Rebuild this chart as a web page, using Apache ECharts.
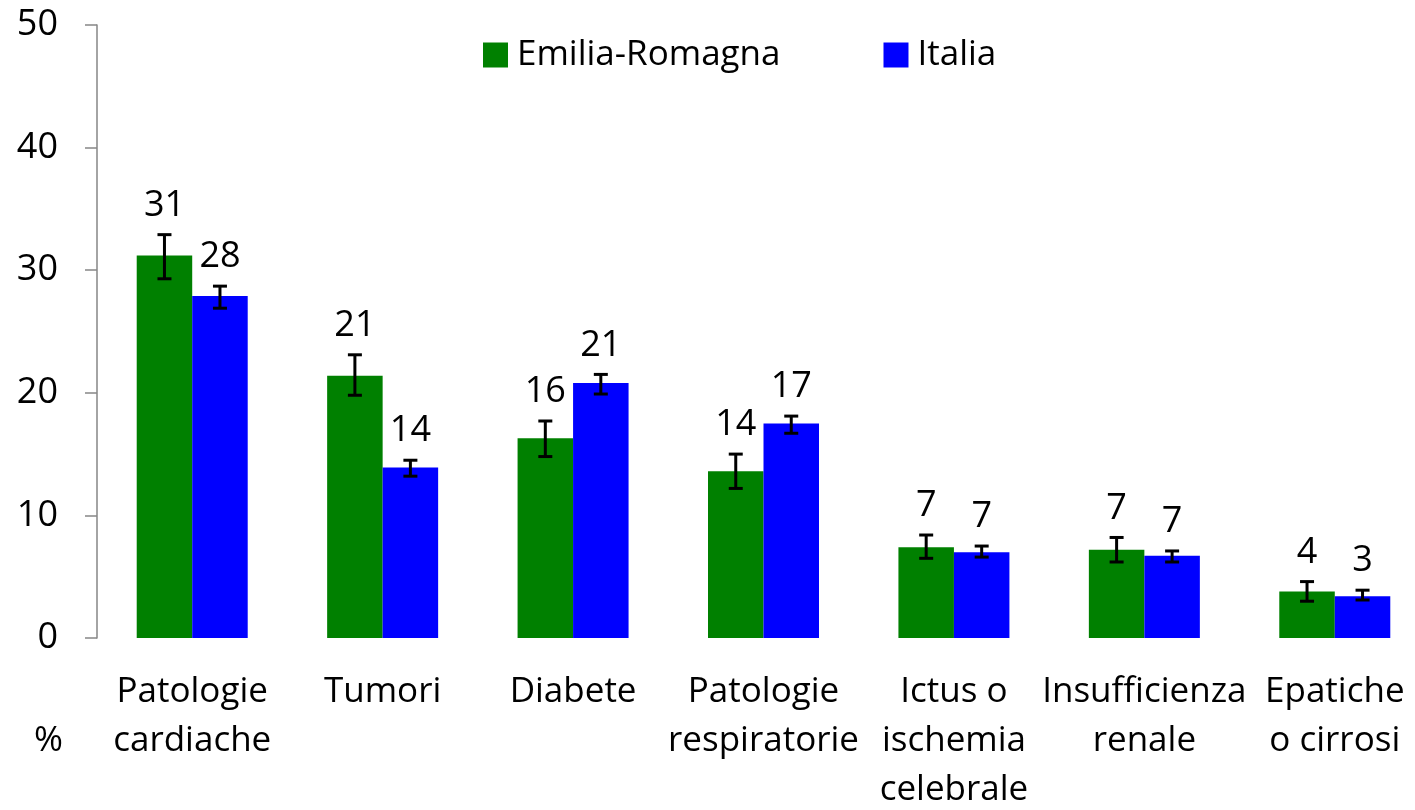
<!DOCTYPE html>
<html>
<head>
<meta charset="utf-8">
<script src="https://cdn.jsdelivr.net/npm/echarts@6/dist/echarts.min.js"></script>
<style>
  html, body { margin: 0; padding: 0; background: #fff; }
  #chart { width: 1415px; height: 810px; }
</style>
</head>
<body>
<div id="chart"></div>
<script>
var categories = ['Patologie\ncardiache', 'Tumori', 'Diabete', 'Patologie\nrespiratorie',
    'Ictus o\nischemia\ncelebrale', 'Insufficienza\nrenale', 'Epatiche\no cirrosi'];
var seriesNames = ['Emilia-Romagna', 'Italia'];

var erValues = [31.2, 21.4, 16.3, 13.6, 7.4, 7.2, 3.8];
var erLow = [29.3, 19.8, 14.8, 12.2, 6.5, 6.2, 3.0];
var erHigh = [32.9, 23.1, 17.7, 15.0, 8.4, 8.2, 4.6];
var erLabels = ['31', '21', '16', '14', '7', '7', '4'];

var itValues = [27.9, 13.9, 20.8, 17.5, 7.0, 6.7, 3.4];
var itLow = [26.9, 13.2, 19.9, 16.7, 6.6, 6.2, 3.1];
var itHigh = [28.7, 14.5, 21.5, 18.1, 7.5, 7.1, 3.9];
var itLabels = ['28', '14', '21', '17', '7', '7', '3'];

var yTicks = [0, 10, 20, 30, 40, 50];

var FONT = '"Open Sans", "Noto Sans", sans-serif';
var BAR_W = 55.5;

function errData(low, high, labels) {
    var out = [];
    for (var i = 0; i < low.length; i++) {
        out.push([i, low[i], high[i], labels[i]]);
    }
    return out;
}

function errRender(offset) {
    return function(params, api) {
        var idx = api.value(0);
        var lo = api.coord([idx, api.value(1)]);
        var hi = api.coord([idx, api.value(2)]);
        var x = lo[0] + offset;
        var cap = 7;
        var st = { stroke: '#000', lineWidth: 3 };
        return {
            type: 'group',
            children: [
                { type: 'line', shape: { x1: x, y1: hi[1], x2: x, y2: lo[1] }, style: st },
                { type: 'line', shape: { x1: x - cap, y1: hi[1], x2: x + cap, y2: hi[1] }, style: st },
                { type: 'line', shape: { x1: x - cap, y1: lo[1], x2: x + cap, y2: lo[1] }, style: st },
                {
                    type: 'text',
                    style: {
                        x: x, y: hi[1] - 29,
                        text: api.value(3) + '',
                        font: '36px ' + FONT,
                        fill: '#000',
                        align: 'center',
                        verticalAlign: 'middle'
                    }
                }
            ]
        };
    };
}

var chart = echarts.init(document.getElementById('chart'));
chart.setOption({
    animation: false,
    backgroundColor: '#fff',
    textStyle: { fontFamily: FONT },
    legend: {
        data: seriesNames,
        left: 483,
        top: 35,
        padding: 0,
        icon: 'rect',
        itemWidth: 25,
        itemHeight: 25,
        itemGap: 103,
        textStyle: { fontSize: 35, color: '#000', fontFamily: FONT, lineHeight: 40, padding: [0, 0, 0, 4] }
    },
    grid: {
        left: 97, top: 25, width: 1333, height: 613,
        containLabel: false,
        outerBoundsMode: 'none'
    },
    xAxis: {
        type: 'category',
        data: categories,
        axisLine: { show: false },
        axisTick: { show: false },
        axisLabel: {
            interval: 0,
            margin: 30,
            fontSize: 35,
            lineHeight: 49,
            color: '#000',
            fontFamily: FONT
        }
    },
    yAxis: {
        type: 'value',
        min: yTicks[0],
        max: yTicks[yTicks.length - 1],
        interval: 10,
        splitLine: { show: false },
        axisLine: { show: true, lineStyle: { color: '#868686', width: 1.5 } },
        axisTick: { show: true, length: 12, lineStyle: { color: '#868686', width: 1.5 } },
        axisLabel: { margin: 39, fontSize: 36, color: '#000', fontFamily: FONT }
    },
    graphic: [{
        type: 'text',
        left: 34,
        top: 724,
        style: { text: '%', font: '35px ' + FONT, fill: '#000' }
    }],
    series: [
        {
            name: seriesNames[0],
            type: 'bar',
            data: erValues,
            barWidth: BAR_W,
            barGap: '0%',
            itemStyle: { color: '#008000' }
        },
        {
            name: seriesNames[1],
            type: 'bar',
            data: itValues,
            barWidth: BAR_W,
            barGap: '0%',
            itemStyle: { color: '#0000ff' }
        },
        {
            type: 'custom',
            renderItem: errRender(-BAR_W / 2),
            data: errData(erLow, erHigh, erLabels),
            encode: { x: 0, y: [1, 2] },
            z: 5
        },
        {
            type: 'custom',
            renderItem: errRender(BAR_W / 2),
            data: errData(itLow, itHigh, itLabels),
            encode: { x: 0, y: [1, 2] },
            z: 5
        }
    ]
});
</script>
</body>
</html>
